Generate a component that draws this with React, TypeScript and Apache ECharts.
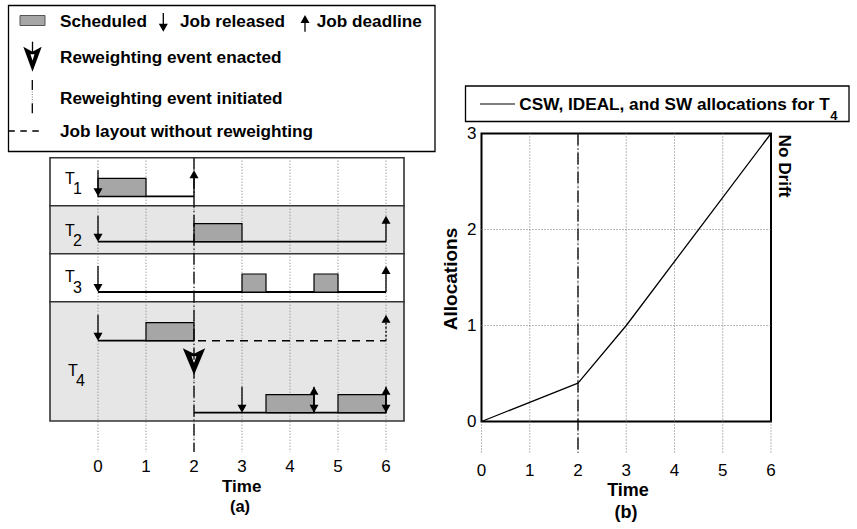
import { useEffect, useRef } from 'react';
import * as echarts from 'echarts';

const FONT = '"Liberation Sans", Arial, Helvetica, sans-serif';

// ---------------- data ----------------
const timeTicks = [0, 1, 2, 3, 4, 5, 6];
const taskIds = ['1', '2', '3', '4'];
// [task index, lane (0 = original layout, 1 = after reweighting), start, end]
const scheduled = [
  [0, 0, 0, 1],
  [1, 0, 2, 3],
  [2, 0, 3, 3.5],
  [2, 0, 4.5, 5],
  [3, 0, 1, 2],
  [3, 1, 3.5, 4.5],
  [3, 1, 5, 6],
];
// [task index, lane, time]
const releases = [
  [0, 0, 0],
  [1, 0, 0],
  [2, 0, 0],
  [3, 0, 0],
  [3, 1, 3],
  [3, 1, 4.5],
  [3, 1, 6],
];
const deadlines = [
  [0, 0, 2],
  [1, 0, 6],
  [2, 0, 6],
  [3, 1, 4.5],
  [3, 1, 6],
];
const unweightedDeadlines = [[3, 0, 6]];
// [task index, lane, from, to]
const timelines = [
  [0, 0, 0, 2],
  [1, 0, 0, 6],
  [2, 0, 0, 6],
  [3, 0, 0, 2],
  [3, 1, 2, 6],
];
const unweightedTimelines = [[3, 0, 2, 6]];
const reweightInitiated = [2];
const reweightEnacted = [2];
const allocTime = [0, 2, 3, 6];
const allocValue = [0, 0.4, 1, 3];

// ---------------- layout ----------------
const A = { left: 50, top: 157.7, width: 354, height: 294.3 };
const B = { left: 481.5, top: 133.5, width: 289.5, height: 288 };
const RUNOUT = 31.5;
const rowEdges = [0, 48, 96, 144, 263.3];
const laneY = [[38.6], [84], [134.3], [183, 255]];
const labelY = [20.6, 72.3, 119, 212.3];
const labelX = [15, 15, 15, 18];
const BOX_H = 18;
const ARROW_LEN = 26;
const HEAD_L = 8;
const HEAD_W = 9;
const ENACTED_TOP = 190.6;
const DASH_DOT = [12, 3, 1, 3];
const BOX_FILL = '#a6a6a6';
const SHADE = '#e6e6e6';
const GRID_DOT = '#777';

function arrow(x: number, yFrom: number, yTo: number, dashed = false, w = HEAD_W, l = HEAD_L) {
  const dir = yTo > yFrom ? 1 : -1;
  const base = yTo - dir * l;
  const lineStyle: any = { stroke: '#000', lineWidth: 1.3 };
  if (dashed) lineStyle.lineDash = [2, 2];
  return [
    { type: 'line', shape: { x1: x, y1: yFrom, x2: x, y2: base + dir * 1 }, style: lineStyle },
    {
      type: 'polygon',
      shape: { points: [[x, yTo], [x - w / 2, base], [x + w / 2, base]] },
      style: { fill: '#000' },
    },
  ];
}

function enactedMarker(cx: number, top: number, half: number, h: number) {
  return [
    {
      type: 'polygon',
      shape: { points: [[cx - half, top], [cx, top + h * 0.2], [cx + half, top], [cx, top + h]] },
      style: { fill: '#000' },
    },
    {
      type: 'polygon',
      shape: { points: [[cx - half * 0.22, top + h * 0.3], [cx + half * 0.22, top + h * 0.3], [cx, top + h * 0.55]] },
      style: { fill: '#fff' },
    },
  ];
}

function measure(text: string, font: string) {
  const ctx = document.createElement('canvas').getContext('2d');
  if (!ctx) return text.length * 9;
  ctx.font = font;
  return ctx.measureText(text).width;
}

function txt(x: number, y: number, text: string, size: number, bold = true, align = 'left', rotation = 0) {
  return {
    type: 'text',
    x,
    y,
    rotation,
    style: {
      text,
      fill: '#000',
      fontSize: size,
      fontWeight: bold ? 'bold' : 'normal',
      fontFamily: FONT,
      lineHeight: Math.round(size * 0.9),
      align,
      verticalAlign: 'middle',
      textAlign: align,
      textVerticalAlign: 'middle',
    },
  };
}

function buildOption() {
  const legendFont = 17.2;
  const legendB = 'CSW, IDEAL, and SW allocations for T';
  const legendBWidth = measure(legendB, `bold ${legendFont}px ${FONT}`);

  const graphic: any[] = [
    // legend (a)
    { type: 'rect', shape: { x: 8.5, y: 5.5, width: 426.5, height: 146 }, style: { fill: '#fff', stroke: '#000', lineWidth: 1.3 } },
    { type: 'rect', shape: { x: 20, y: 15.5, width: 25, height: 10 }, style: { fill: BOX_FILL, stroke: '#555', lineWidth: 1 } },
    txt(60, 20.7, 'Scheduled', legendFont),
    ...arrow(163.3, 13, 31.7),
    txt(180, 20.7, 'Job released', legendFont),
    ...arrow(305, 31.7, 15),
    txt(316.7, 20.7, 'Job deadline', legendFont),
    { type: 'line', shape: { x1: 32.5, y1: 41.7, x2: 32.5, y2: 52 }, style: { stroke: '#000', lineWidth: 1.3 } },
    ...enactedMarker(32.5, 46.7, 9.2, 25),
    txt(60, 56.7, 'Reweighting event enacted', legendFont),
    { type: 'line', shape: { x1: 32.3, y1: 80, x2: 32.3, y2: 90 }, style: { stroke: '#000', lineWidth: 1.3 } },
    { type: 'line', shape: { x1: 32.3, y1: 91.5, x2: 32.3, y2: 102 }, style: { stroke: '#777', lineWidth: 1, lineDash: [1, 1.5] } },
    { type: 'line', shape: { x1: 32.3, y1: 103.3, x2: 32.3, y2: 113.3 }, style: { stroke: '#000', lineWidth: 1.3 } },
    txt(60, 98, 'Reweighting event initiated', legendFont),
    { type: 'line', shape: { x1: 8.3, y1: 131, x2: 41, y2: 131 }, style: { stroke: '#000', lineWidth: 1.5, lineDash: [6.5, 5.5] } },
    txt(60, 131, 'Job layout without reweighting', legendFont),
    // legend (b)
    { type: 'rect', shape: { x: 465.5, y: 86, width: 383.5, height: 35.5 }, style: { fill: '#fff', stroke: '#000', lineWidth: 1.3 } },
    { type: 'line', shape: { x1: 480, y1: 104, x2: 515, y2: 104 }, style: { stroke: '#000', lineWidth: 1.2 } },
    txt(519.3, 104, legendB, legendFont),
    txt(519.3 + legendBWidth + 0.5, 115.5, '4', 13),
    // titles
    txt(241.7, 486.3, 'Time', 17, true, 'center'),
    txt(240, 506, '(a)', 16.5, true, 'center'),
    txt(628, 490, 'Time', 18, true, 'center'),
    txt(626, 512, '(b)', 18, true, 'center'),
    txt(450.5, 279, 'Allocations', 19, true, 'center', Math.PI / 2),
    txt(784.5, 166, 'No Drift', 17.2, true, 'center', -Math.PI / 2),
  ];

  const axisLabelStyle = { color: '#000', fontSize: 17, fontFamily: FONT };

  const laneCoord = (api: any, t: number, task: number, lane: number) => api.coord([t, laneY[task][lane]]);

  const series: any[] = [
    // row backgrounds of panel (a)
    {
      type: 'custom', xAxisIndex: 0, yAxisIndex: 0, z: 2, silent: true,
      data: taskIds.map((_, i) => [i]),
      renderItem: (params: any, api: any) => {
        const i = api.value(0);
        const cs = params.coordSys;
        const y0 = api.coord([0, rowEdges[i]])[1];
        const y1 = api.coord([0, rowEdges[i + 1]])[1];
        return {
          type: 'rect',
          shape: { x: cs.x, y: y0, width: cs.width, height: y1 - y0 },
          style: { fill: i % 2 ? SHADE : '#fff', stroke: '#333', lineWidth: 1.6 },
        };
      },
    },
    // dotted time lines of panel (a)
    {
      type: 'custom', xAxisIndex: 0, yAxisIndex: 0, z: 3, silent: true,
      data: timeTicks.map((t) => [t]),
      renderItem: (params: any, api: any) => {
        const t = api.value(0);
        const p0 = api.coord([t, 0]);
        const p1 = api.coord([t, A.height]);
        return { type: 'line', shape: { x1: p0[0], y1: p0[1], x2: p1[0], y2: p1[1] }, style: { stroke: GRID_DOT, lineWidth: 1, lineDash: [1, 2] } };
      },
    },
    // timelines
    {
      type: 'custom', xAxisIndex: 0, yAxisIndex: 0, z: 4, silent: true,
      data: timelines,
      renderItem: (params: any, api: any) => {
        const task = api.value(0), lane = api.value(1);
        const p0 = laneCoord(api, api.value(2), task, lane);
        const p1 = laneCoord(api, api.value(3), task, lane);
        return { type: 'line', shape: { x1: p0[0], y1: p0[1], x2: p1[0], y2: p1[1] }, style: { stroke: '#000', lineWidth: 1.8 } };
      },
    },
    // job layout without reweighting (dashed)
    {
      type: 'custom', xAxisIndex: 0, yAxisIndex: 0, z: 4, silent: true,
      data: unweightedTimelines,
      renderItem: (params: any, api: any) => {
        const task = api.value(0), lane = api.value(1);
        const p0 = laneCoord(api, api.value(2), task, lane);
        const p1 = laneCoord(api, api.value(3), task, lane);
        return { type: 'line', shape: { x1: p0[0] + 4, y1: p0[1], x2: p1[0], y2: p1[1] }, style: { stroke: '#000', lineWidth: 1.6, lineDash: [8, 6] } };
      },
    },
    // scheduled boxes
    {
      type: 'custom', xAxisIndex: 0, yAxisIndex: 0, z: 5, silent: true,
      data: scheduled,
      renderItem: (params: any, api: any) => {
        const task = api.value(0), lane = api.value(1);
        const p0 = laneCoord(api, api.value(2), task, lane);
        const p1 = laneCoord(api, api.value(3), task, lane);
        return {
          type: 'rect',
          shape: { x: p0[0], y: p0[1] - BOX_H, width: p1[0] - p0[0], height: BOX_H },
          style: { fill: BOX_FILL, stroke: '#000', lineWidth: 1.2 },
        };
      },
    },
    // releases
    {
      type: 'custom', xAxisIndex: 0, yAxisIndex: 0, z: 6, silent: true,
      data: releases,
      renderItem: (params: any, api: any) => {
        const p = laneCoord(api, api.value(2), api.value(0), api.value(1));
        return { type: 'group', children: arrow(p[0], p[1] - ARROW_LEN, p[1]) };
      },
    },
    // deadlines
    {
      type: 'custom', xAxisIndex: 0, yAxisIndex: 0, z: 6, silent: true,
      data: deadlines,
      renderItem: (params: any, api: any) => {
        const p = laneCoord(api, api.value(2), api.value(0), api.value(1));
        return { type: 'group', children: arrow(p[0], p[1], p[1] - ARROW_LEN) };
      },
    },
    // deadline without reweighting
    {
      type: 'custom', xAxisIndex: 0, yAxisIndex: 0, z: 6, silent: true,
      data: unweightedDeadlines,
      renderItem: (params: any, api: any) => {
        const p = laneCoord(api, api.value(2), api.value(0), api.value(1));
        return { type: 'group', children: arrow(p[0], p[1], p[1] - ARROW_LEN, true) };
      },
    },
    // reweighting enacted marker
    {
      type: 'custom', xAxisIndex: 0, yAxisIndex: 0, z: 7, silent: true,
      data: reweightEnacted.map((t) => [t]),
      renderItem: (params: any, api: any) => {
        const p = api.coord([api.value(0), ENACTED_TOP]);
        return { type: 'group', children: enactedMarker(p[0], p[1], 11.2, 26.7) };
      },
    },
    // reweighting initiated (dash-dot) in panel (a)
    {
      type: 'custom', xAxisIndex: 0, yAxisIndex: 0, z: 8, silent: true,
      data: reweightInitiated.map((t) => [t]),
      renderItem: (params: any, api: any) => {
        const t = api.value(0);
        const p0 = api.coord([t, 0]);
        const p1 = api.coord([t, A.height]);
        return { type: 'line', shape: { x1: p0[0], y1: p0[1], x2: p1[0], y2: p1[1] }, style: { stroke: '#000', lineWidth: 1.3, lineDash: DASH_DOT } };
      },
    },
    // task labels
    {
      type: 'custom', xAxisIndex: 0, yAxisIndex: 0, z: 6, silent: true,
      data: taskIds.map((_, i) => [i]),
      renderItem: (params: any, api: any) => {
        const i = api.value(0);
        const cs = params.coordSys;
        const y = api.coord([0, labelY[i]])[1];
        const mk = (x: number, yy: number, text: string) => ({
          type: 'text', x, y: yy,
          style: { text, fill: '#000', fontSize: 16, fontFamily: FONT, align: 'left', verticalAlign: 'middle' },
        });
        const x = cs.x + labelX[i];
        return { type: 'group', children: [mk(x, y, 'T'), mk(x + 8, y + 10.5, taskIds[i])] };
      },
    },
    // panel (b): dotted time lines incl. run-out below the frame
    {
      type: 'custom', xAxisIndex: 1, yAxisIndex: 1, z: 3, silent: true,
      data: timeTicks.map((t) => [t]),
      renderItem: (params: any, api: any) => {
        const t = api.value(0);
        const edge = t === timeTicks[0] || t === timeTicks[timeTicks.length - 1];
        const top = api.coord([t, edge ? 0 : 3]);
        const bot = api.coord([t, 0]);
        return { type: 'line', shape: { x1: top[0], y1: top[1], x2: bot[0], y2: bot[1] + RUNOUT }, style: { stroke: GRID_DOT, lineWidth: 1, lineDash: [1, 2] } };
      },
    },
    {
      type: 'custom', xAxisIndex: 1, yAxisIndex: 1, z: 8, silent: true,
      data: reweightInitiated.map((t) => [t]),
      renderItem: (params: any, api: any) => {
        const t = api.value(0);
        const top = api.coord([t, 3]);
        const bot = api.coord([t, 0]);
        return { type: 'line', shape: { x1: top[0], y1: top[1], x2: bot[0], y2: bot[1] + RUNOUT }, style: { stroke: '#000', lineWidth: 1.3, lineDash: DASH_DOT } };
      },
    },
    {
      type: 'line', xAxisIndex: 1, yAxisIndex: 1, z: 9, silent: true,
      data: allocTime.map((t, i) => [t, allocValue[i]]),
      symbol: 'none',
      lineStyle: { color: '#000', width: 1.3 },
    },
  ];

  return {
    animation: false,
    backgroundColor: '#fff',
    tooltip: { show: false },
    graphic,
    grid: [
      { left: A.left, top: A.top, width: A.width, height: A.height, outerBoundsMode: 'none', containLabel: false },
      {
        left: B.left, top: B.top, width: B.width, height: B.height, outerBoundsMode: 'none', containLabel: false,
        show: true, borderColor: '#000', borderWidth: 2, backgroundColor: 'transparent',
      },
    ],
    xAxis: [
      {
        type: 'value', gridIndex: 0, min: -1, max: 6.375, interval: 1,
        axisLine: { show: false }, axisTick: { show: false }, splitLine: { show: false },
        axisLabel: { ...axisLabelStyle, margin: 5.5, interval: 0, formatter: (v: number) => (v >= 0 && v <= 6 ? String(v) : '') },
      },
      {
        type: 'value', gridIndex: 1, min: 0, max: 6, interval: 1,
        axisLine: { show: false }, axisTick: { show: false }, splitLine: { show: false },
        axisLabel: { ...axisLabelStyle, margin: 40, interval: 0 },
      },
    ],
    yAxis: [
      { type: 'value', gridIndex: 0, min: 0, max: A.height, inverse: true, show: false },
      {
        type: 'value', gridIndex: 1, min: 0, max: 3, interval: 1,
        axisLine: { show: false }, axisTick: { show: false },
        splitLine: { show: true, showMinLine: false, showMaxLine: false, lineStyle: { color: GRID_DOT, width: 1, type: [1, 2] } },
        axisLabel: { ...axisLabelStyle, margin: 5, interval: 0 },
      },
    ],
    series,
  };
}

export default function App() {
  const ref = useRef<HTMLDivElement>(null);
  useEffect(() => {
    if (!ref.current) return;
    document.body.style.margin = '0';
    const chart = echarts.init(ref.current, null, { renderer: 'svg' });
    chart.setOption(buildOption() as any);
    return () => chart.dispose();
  }, []);
  return <div ref={ref} style={{ width: 857, height: 529, background: '#fff' }} />;
}
